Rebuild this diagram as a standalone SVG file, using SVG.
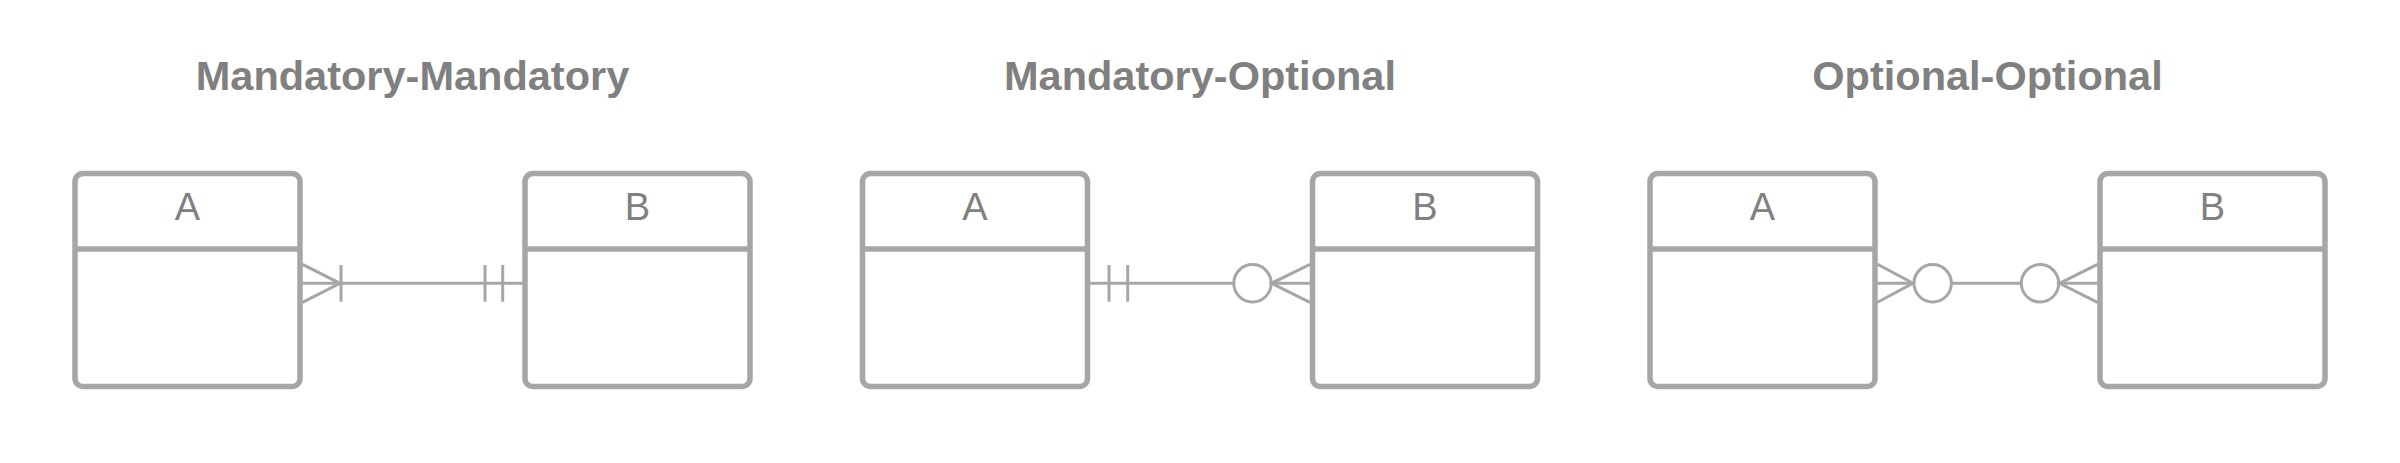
<svg xmlns="http://www.w3.org/2000/svg" width="2400" height="463" viewBox="0 0 2400 463">
<style>
.title{font-family:"Liberation Sans",Arial,sans-serif;font-weight:bold;font-size:41.5px;fill:#808080;text-anchor:middle}
.lbl{font-family:"Liberation Sans",Arial,sans-serif;font-size:38px;fill:#808080;text-anchor:middle}
.box{fill:#ffffff;stroke:#a6a6a6;stroke-width:5.5}
.div{stroke:#a6a6a6;stroke-width:5.5}
.c{fill:none;stroke:#a6a6a6;stroke-width:3}
.o{fill:#ffffff;stroke:#a6a6a6;stroke-width:3}
</style>
<rect x="0" y="0" width="2400" height="463" fill="#ffffff"/>
<g id="title1"><text class="title" x="412.5" y="89.5">Mandatory-Mandatory</text></g>
<g id="title2"><text class="title" x="1200" y="89.5">Mandatory-Optional</text></g>
<g id="title3"><text class="title" x="1987.5" y="89.5">Optional-Optional</text></g>

<g id="connectors">
  <!-- pair 1 -->
  <line class="c" x1="300" y1="283.3" x2="525" y2="283.3"/>
  <path class="c" d="M302.5,264.3 L340,283.3 L302.5,302.3"/>
  <line class="c" x1="341" y1="265" x2="341" y2="301.7"/>
  <line class="c" x1="485" y1="265" x2="485" y2="301.7"/>
  <line class="c" x1="502.7" y1="265" x2="502.7" y2="301.7"/>
  <!-- pair 2 -->
  <line class="c" x1="1087.5" y1="283.3" x2="1312.5" y2="283.3"/>
  <line class="c" x1="1109" y1="265" x2="1109" y2="301.7"/>
  <line class="c" x1="1127.7" y1="265" x2="1127.7" y2="301.7"/>
  <circle class="o" cx="1252.5" cy="283.3" r="18.7"/>
  <path class="c" d="M1310,264.3 L1271.5,283.3 L1310,302.3"/>
  <!-- pair 3 -->
  <line class="c" x1="1875" y1="283.3" x2="2100" y2="283.3"/>
  <path class="c" d="M1877.5,264.3 L1913,283.3 L1877.5,302.3"/>
  <circle class="o" cx="1932.7" cy="283.3" r="18.7"/>
  <circle class="o" cx="2040" cy="283.3" r="18.7"/>
  <path class="c" d="M2097.5,264.3 L2059.5,283.3 L2097.5,302.3"/>
</g>

<g id="a1"><rect class="box" x="75" y="173.5" width="225" height="213" rx="8"/><line class="div" x1="75" y1="249" x2="300" y2="249"/><text class="lbl" x="187.5" y="219.5">A</text></g>
<g id="b1"><rect class="box" x="525" y="173.5" width="225" height="213" rx="8"/><line class="div" x1="525" y1="249" x2="750" y2="249"/><text class="lbl" x="637.5" y="219.5">B</text></g>
<g id="a2"><rect class="box" x="862.5" y="173.5" width="225" height="213" rx="8"/><line class="div" x1="862.5" y1="249" x2="1087.5" y2="249"/><text class="lbl" x="975" y="219.5">A</text></g>
<g id="b2"><rect class="box" x="1312.5" y="173.5" width="225" height="213" rx="8"/><line class="div" x1="1312.5" y1="249" x2="1537.5" y2="249"/><text class="lbl" x="1425" y="219.5">B</text></g>
<g id="a3"><rect class="box" x="1650" y="173.5" width="225" height="213" rx="8"/><line class="div" x1="1650" y1="249" x2="1875" y2="249"/><text class="lbl" x="1762.5" y="219.5">A</text></g>
<g id="b3"><rect class="box" x="2100" y="173.5" width="225" height="213" rx="8"/><line class="div" x1="2100" y1="249" x2="2325" y2="249"/><text class="lbl" x="2212.5" y="219.5">B</text></g>
</svg>
